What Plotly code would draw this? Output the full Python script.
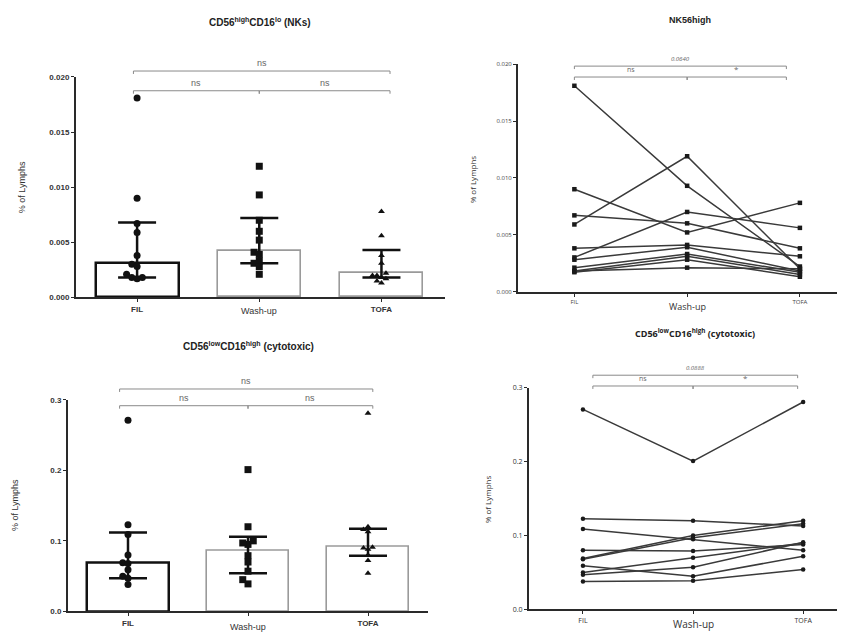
import plotly.graph_objects as go

# ---------------- data ----------------
categories = ["FIL", "Wash-up", "TOFA"]

# CD56high CD16lo (NKs) – per-subject values (paired by index)
nk_fil  = [0.0181, 0.0059, 0.0090, 0.0067, 0.0030, 0.0038, 0.0028, 0.0021, 0.0018, 0.0017, 0.0018]
nk_wash = [0.0093, 0.0119, 0.0052, 0.0060, 0.0070, 0.0041, 0.0039, 0.0033, 0.0031, 0.0028, 0.0021]
nk_tofa = [0.0022, 0.0020, 0.0078, 0.0038, 0.0056, 0.0031, 0.0018, 0.0017, 0.0015, 0.0013, 0.0020]
nk_median = [0.0031, 0.0042, 0.0022]
nk_q1     = [0.0018, 0.0031, 0.0018]
nk_q3     = [0.0068, 0.0072, 0.0043]
nk_ticks  = [0.000, 0.005, 0.010, 0.015, 0.020]

# CD56low CD16high (cytotoxic)
cyt_fil  = [0.271, 0.123, 0.109, 0.069, 0.068, 0.080, 0.059, 0.050, 0.047, 0.038]
cyt_wash = [0.201, 0.120, 0.095, 0.100, 0.097, 0.079, 0.045, 0.070, 0.057, 0.039]
cyt_tofa = [0.281, 0.113, 0.080, 0.120, 0.116, 0.088, 0.072, 0.090, 0.091, 0.054]
cyt_median = [0.069, 0.086, 0.091]
cyt_q1     = [0.047, 0.054, 0.079]
cyt_q3     = [0.112, 0.106, 0.117]
cyt_ticks  = [0.0, 0.1, 0.2, 0.3]

# significance comparisons: (from, to, label)
nk_bar_sig  = [(0, 2, "ns"), (0, 1, "ns"), (1, 2, "ns")]
nk_line_sig = [(0, 2, "0.0640"), (0, 1, "ns"), (1, 2, "*")]
cyt_bar_sig  = [(0, 2, "ns"), (0, 1, "ns"), (1, 2, "ns")]
cyt_line_sig = [(0, 2, "0.0888"), (0, 1, "ns"), (1, 2, "*")]

# ---------------- layout helpers ----------------
VW, VH = 845, 641          # browser window
OFF = 8                    # default page margin around the plot div
W, H = VW - OFF, VH - OFF  # figure size so it ends exactly at the window edge
LEFT_FONT = "Liberation Sans, Arial, sans-serif"
RIGHT_FONT = "Open Sans, Liberation Sans, sans-serif"

# panel geometry in window pixels: (x0, x1, ytop, ybottom), x range, y max
panels = {
    "tl": dict(px=(76, 445, 73, 297), xr=(-0.5, 2.52), ymax=0.02),
    "tr": dict(px=(518, 845, 60, 291), xr=(-0.5, 2.4), ymax=0.02),
    "bl": dict(px=(68, 428, 401, 616), xr=(-0.5, 2.5), ymax=0.3),
    "br": dict(px=(529, 845, 389, 614), xr=(-0.49, 2.38), ymax=0.3),
}
axis_ids = {"tl": ("x", "y"), "tr": ("x2", "y2"), "bl": ("x3", "y3"), "br": ("x4", "y4")}


def px2paper(x, y):
    return (x - OFF) / W, 1 - (y - OFF) / H


def data2px(p, x, y):
    g = panels[p]
    x0, x1, yt, yb = g["px"]
    r0, r1 = g["xr"]
    xp = x0 + (x - r0) / (r1 - r0) * (x1 - x0)
    yp = yb - y / g["ymax"] * (yb - yt)
    return xp, yp


def swarm(p, values, diam):
    """deterministic horizontal spread for overlapping points (Prism-like)"""
    g = panels[p]
    x0, x1, yt, yb = g["px"]
    r0, r1 = g["xr"]
    ppx = (x1 - x0) / (r1 - r0)
    ppy = (yb - yt) / g["ymax"]
    order = sorted(range(len(values)), key=lambda i: values[i])
    placed = []
    offs = [0.0] * len(values)
    step = diam * 0.75
    cands = [0]
    for n in range(1, 12):
        cands += [-n, n]
    for i in order:
        yp = values[i] * ppy
        for c in cands:
            xp = c * step
            if all((xp - a) ** 2 + (yp - b) ** 2 >= step ** 2 for a, b in placed):
                placed.append((xp, yp))
                offs[i] = xp / ppx
                break
    return offs


fig = go.Figure()
shapes, annotations = [], []


def axis_cfg(p, font, tickfont_size, bold, ytickvals, yfmt, lw, tcolor):
    g = panels[p]
    x0, x1, yt, yb = g["px"]
    xd = [max(0.0, (x0 - OFF) / W), min(1.0, (x1 - OFF) / W)]
    yd = [1 - (yb - OFF) / H, 1 - (yt - OFF) / H]
    xa, ya = axis_ids[p]
    weight = "bold" if bold else "normal"
    tf = dict(family=font, size=tickfont_size, color=tcolor, weight=weight)
    xcfg = dict(domain=xd, range=list(g["xr"]), anchor=ya, tickmode="array",
                tickvals=[0, 2], ticktext=[categories[0], categories[2]],
                showline=True, linecolor="#2a2a2a", linewidth=lw, ticks="outside",
                ticklen=3, tickwidth=1, tickcolor="#2a2a2a", showgrid=False, zeroline=False,
                minor=dict(tickmode="array", tickvals=[1], ticks="outside", ticklen=3,
                           tickwidth=1, tickcolor="#2a2a2a", showgrid=False),
                tickfont=tf, fixedrange=True)
    ycfg = dict(domain=yd, range=[0, g["ymax"]], anchor=xa, tickmode="array",
                tickvals=ytickvals, tickformat=yfmt, showline=True, linecolor="#2a2a2a",
                linewidth=lw, ticks="outside", ticklen=3, tickwidth=1, tickcolor="#2a2a2a",
                showgrid=False, zeroline=False, tickfont=tf, fixedrange=True)
    return xcfg, ycfg


def add_brackets(p, sig, levels_y, text_dy, inset, font, sizes, italic_first):
    # levels_y: data y for (top bracket, lower brackets)
    for k, (a, b, lab) in enumerate(sig):
        yv = levels_y[0] if k == 0 else levels_y[1]
        xa = a + (inset[0] if a == 0 else 0.0)
        xb = b + (inset[1] if b == 2 else 0.0)
        pxa, pyv = data2px(p, xa, yv)
        pxb, _ = data2px(p, xb, yv)
        ax, ay = px2paper(pxa, pyv)
        bx, _ = px2paper(pxb, pyv)
        t = 3 / H
        shapes.append(dict(type="path", xref="paper", yref="paper",
                           path=f"M {ax},{ay - t} L {ax},{ay} L {bx},{ay} L {bx},{ay - t}",
                           line=dict(color="#8a8a8a", width=1)))
        tx, ty = px2paper((pxa + pxb) / 2, pyv - text_dy)
        txt = f"<i>{lab}</i>" if (k == 0 and italic_first) else lab
        annotations.append(dict(x=tx, y=ty, xref="paper", yref="paper", text=txt,
                                showarrow=False, xanchor="center", yanchor="bottom",
                                font=dict(family=font, size=sizes[k], color="#666")))


def add_text(x, y, text, size, font, bold=False, angle=0, color="#222"):
    px_, py_ = px2paper(x, y)
    annotations.append(dict(x=px_, y=py_, xref="paper", yref="paper", text=text,
                            showarrow=False, xanchor="center", yanchor="middle",
                            textangle=angle,
                            font=dict(family=font, size=size, color=color,
                                      weight="bold" if bold else "normal")))


# ---------------- bar panels ----------------
def bar_panel(p, fil, wash, tofa, med, q1, q3):
    xa, ya = axis_ids[p]
    fig.add_trace(go.Bar(
        x=[0, 1, 2], y=med, width=0.68, xaxis=xa, yaxis=ya,
        marker=dict(color="white", line=dict(color=["#111", "#9a9a9a", "#9a9a9a"], width=[2.5, 1.6, 1.6])),
        error_y=dict(type="data", symmetric=False,
                     array=[h - m for h, m in zip(q3, med)],
                     arrayminus=[m - l for m, l in zip(med, q1)],
                     color="#111", thickness=2.5, width=19),
        showlegend=False, hoverinfo="skip"))
    specs = [(fil, "circle", 7), (wash, "square", 7), (tofa, "triangle-up", 6)]
    for ci, (vals, sym, sz) in enumerate(specs):
        offs = swarm(p, vals, sz)
        fig.add_trace(go.Scatter(
            x=[ci + o for o in offs], y=vals, mode="markers", xaxis=xa, yaxis=ya,
            marker=dict(symbol=sym, size=sz, color="#111", line=dict(width=0)),
            cliponaxis=False, showlegend=False, hoverinfo="skip"))


def line_panel(p, fil, wash, tofa, sym):
    xa, ya = axis_ids[p]
    for a, b, c in zip(fil, wash, tofa):
        fig.add_trace(go.Scatter(
            x=[0, 1, 2], y=[a, b, c], mode="lines+markers", xaxis=xa, yaxis=ya,
            line=dict(color="#3a3a3a", width=1.5),
            marker=dict(symbol=sym, size=4.5, color="#1a1a1a"),
            cliponaxis=False, showlegend=False, hoverinfo="skip"))


bar_panel("tl", nk_fil, nk_wash, nk_tofa, nk_median, nk_q1, nk_q3)
line_panel("tr", nk_fil, nk_wash, nk_tofa, "square")
bar_panel("bl", cyt_fil, cyt_wash, cyt_tofa, cyt_median, cyt_q1, cyt_q3)
line_panel("br", cyt_fil, cyt_wash, cyt_tofa, "circle")

layout_axes = {}
for p, font, tfs, bold, ticks, fmt, lw, tc in [
    ("tl", LEFT_FONT, 8, True, nk_ticks, ".3f", 2, "#333"),
    ("tr", RIGHT_FONT, 6, False, nk_ticks, ".3f", 2, "#444"),
    ("bl", LEFT_FONT, 8, True, cyt_ticks, ".1f", 2, "#333"),
    ("br", RIGHT_FONT, 7, False, cyt_ticks, ".1f", 2, "#333"),
]:
    xc, yc = axis_cfg(p, font, tfs, bold, ticks, fmt, lw, tc)
    xa, ya = axis_ids[p]
    layout_axes["xaxis" + xa[1:]] = xc
    layout_axes["yaxis" + ya[1:]] = yc

# significance brackets
add_brackets("tl", nk_bar_sig, (0.02054, 0.01875), 1, (-0.03, 0.07), LEFT_FONT, (9, 9, 9), False)
add_brackets("tr", nk_line_sig, (0.01983, 0.01887), 1, (0.0, -0.12), RIGHT_FONT, (6, 7, 8), True)
add_brackets("bl", cyt_bar_sig, (0.3153, 0.2916), 1, (-0.07, 0.04), LEFT_FONT, (9, 9, 9), False)
add_brackets("br", cyt_line_sig, (0.3173, 0.3027), 1, (0.09, -0.05), RIGHT_FONT, (6, 7, 8), True)

# titles
add_text(260, 17, "CD56<sup>high</sup>CD16<sup>lo</sup> (NKs)", 10, LEFT_FONT, bold=True)
add_text(690, 15, "NK56high", 9, LEFT_FONT, bold=True)
add_text(249, 346, "CD56<sup>low</sup>CD16<sup>high</sup> (cytotoxic)", 10, LEFT_FONT, bold=True)
add_text(695, 333, "CD56<sup>low</sup>CD16<sup>high</sup> (cytotoxic)", 9, RIGHT_FONT, bold=True)

# y-axis titles
add_text(22, 185, "% of Lymphs", 9, LEFT_FONT, angle=-90, color="#333")
add_text(472, 177, "% of Lymphs", 8, RIGHT_FONT, angle=-90, color="#333")
add_text(15, 508, "% of Lymphs", 9, LEFT_FONT, angle=-90, color="#333")
add_text(487, 502, "% of Lymphs", 8, RIGHT_FONT, angle=-90, color="#333")

# middle category labels (set lower, Prism style)
for p, y, size, font in [("tl", 311, 9, LEFT_FONT), ("tr", 306, 9, RIGHT_FONT),
                         ("bl", 632, 9, LEFT_FONT), ("br", 629, 10, RIGHT_FONT)]:
    xp, _ = data2px(p, 1, 0)
    add_text(xp, y, categories[1], size, font, color="#333")

fig.update_layout(
    width=W, height=H, margin=dict(l=0, r=0, t=0, b=0),
    paper_bgcolor="white", plot_bgcolor="white",
    showlegend=False, bargap=0,
    shapes=shapes, annotations=annotations,
    **layout_axes,
)

fig.write_html("out.html")
